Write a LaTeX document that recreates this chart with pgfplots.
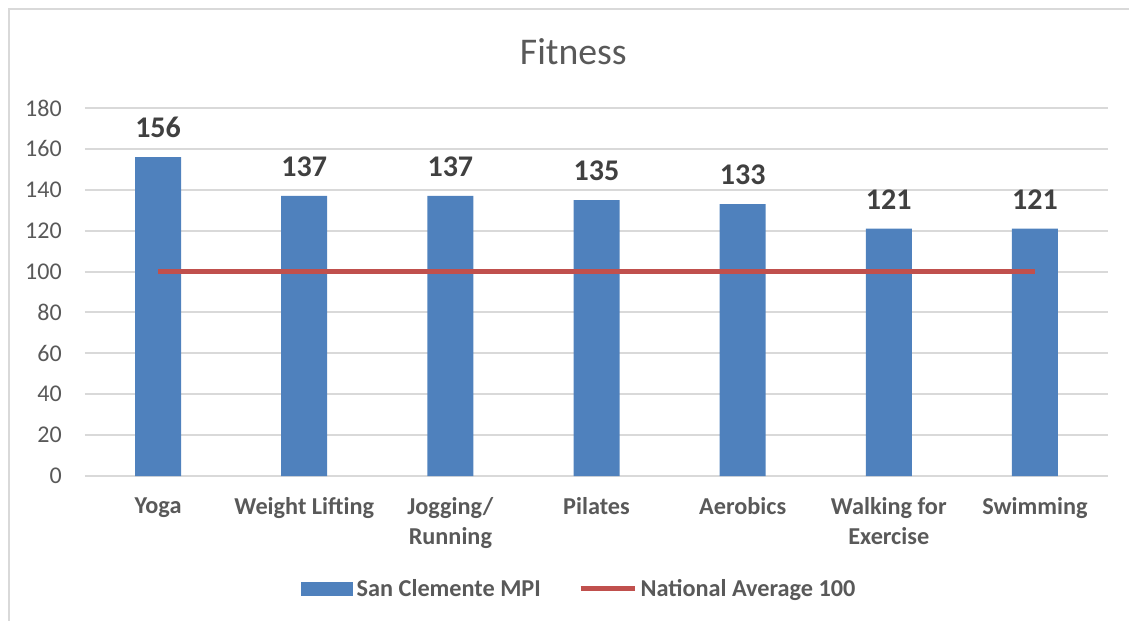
\documentclass[border=0pt]{standalone}
\usepackage{fontspec}
\setmainfont{Carlito}
\usepackage{pgfplots}
\pgfplotsset{compat=1.18}
\definecolor{barblue}{HTML}{4F81BD}
\definecolor{linered}{HTML}{C0504D}
\definecolor{gridgray}{HTML}{D9D9D9}
\definecolor{txtgray}{HTML}{595959}
\definecolor{lblgray}{HTML}{404040}
\begin{document}
\begin{tikzpicture}
\useasboundingbox (0pt,0pt) rectangle (846.75pt,-465.75pt);
\draw[gridgray, line width=1.5pt] (6.75pt,-466pt) -- (6.75pt,-6.75pt) -- (847pt,-6.75pt);
\node[text=txtgray, font=\fontsize{28.3}{33}\selectfont] at (430pt,-39pt) {Fitness};
\begin{axis}[
  at={(63.75pt,-357pt)}, anchor=south west,
  scale only axis, width=767.25pt, height=276pt,
  xmin=-0.5, xmax=6.5, ymin=0, ymax=180,
  ytick={0,20,...,180},
  xtick={0,...,6},
  xticklabels={Yoga, Weight Lifting, {Jogging/\\Running}, Pilates, Aerobics, {Walking for\\Exercise}, Swimming},
  axis line style={draw=none},
  major tick length=0pt,
  ymajorgrids,
  major grid style={gridgray, line width=1.5pt},
  /pgf/number format/assume math mode=true,
  yticklabel style={font=\fontsize{18}{21.6}\selectfont, text=txtgray, inner sep=0pt, anchor=east, xshift=-17.25pt},
  xticklabel style={font=\bfseries\fontsize{18.2}{22.5}\selectfont, text=txtgray, inner sep=0pt, anchor=north, yshift=-16pt, align=center},
  legend style={at={(0.484,-0.307)}, anchor=center, draw=none, fill=none,
    font=\bfseries\fontsize{18.2}{21}\selectfont, text=txtgray,
    /tikz/every even column/.append style={column sep=25.5pt},
    nodes={inner sep=2.5pt}},
  legend columns=2,
  clip=false,
]
\addplot[ybar, bar width=34.5pt, fill=barblue, draw=none,
  nodes near coords,
  every node near coord/.append style={font=\bfseries\fontsize{22.5}{27}\selectfont, text=lblgray, inner sep=0pt, anchor=south, yshift=14.25pt},
  legend image code/.code={\fill[barblue] (0pt,-5.25pt) rectangle (39pt,5.25pt);}]
  coordinates {(0,156) (1,137) (2,137) (3,135) (4,133) (5,121) (6,121)};
\addlegendentry{San Clemente MPI}
\addplot[linered, line width=3.75pt, mark=none,
  legend image code/.code={\draw[linered, line width=3.75pt] (0pt,0pt) -- (40.5pt,0pt);}]
  coordinates {(0,100) (6,100)};
\addlegendentry{National Average 100}
\end{axis}
\end{tikzpicture}
\end{document}
